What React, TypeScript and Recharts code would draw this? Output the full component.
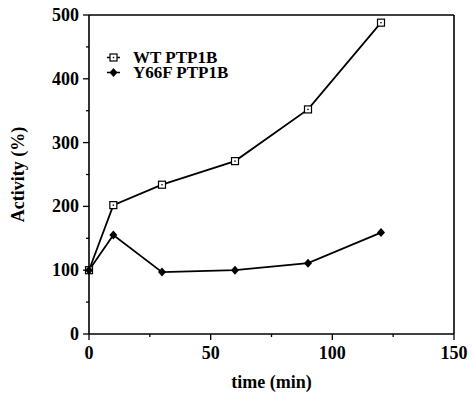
import React from 'react';
import { LineChart, Line, XAxis, YAxis, ReferenceLine, Legend } from 'recharts';

const times = [0, 10, 30, 60, 90, 120];
const wtValues = [100, 202, 234, 271, 352, 488];
const y66fValues = [100, 155, 97, 100, 111, 159];
const xTicks = [0, 25, 50, 75, 100, 125, 150];
const xMajor = [0, 50, 100, 150];
const yTicks = [0, 50, 100, 150, 200, 250, 300, 350, 400, 450, 500];
const yMajor = [0, 100, 200, 300, 400, 500];
const seriesNames = ['WT PTP1B', 'Y66F PTP1B'];

const data = times.map((t, i) => ({ t, wt: wtValues[i], y66f: y66fValues[i] }));

const FONT = 'Liberation Serif';

const XTick = (props: any) => {
  const { x, y, payload } = props;
  const major = xMajor.includes(payload.value);
  return (
    <g>
      <line x1={x} y1={y} x2={x} y2={y + (major ? 6 : 3)} stroke="#000" strokeWidth={1.3} />
      {major && (
        <text x={x} y={y + 25} textAnchor="middle" fontFamily={FONT} fontWeight="bold" fontSize={18} fill="#000">
          {payload.value}
        </text>
      )}
    </g>
  );
};

const YTick = (props: any) => {
  const { x, y, payload } = props;
  const major = yMajor.includes(payload.value);
  return (
    <g>
      <line x1={x - (major ? 6 : 3)} y1={y} x2={x} y2={y} stroke="#000" strokeWidth={1.3} />
      {major && (
        <text x={x - 10} y={y + 6} textAnchor="end" fontFamily={FONT} fontWeight="bold" fontSize={18} fill="#000">
          {payload.value}
        </text>
      )}
    </g>
  );
};

const SquareDot = (props: any) => {
  const { cx, cy } = props;
  if (cx == null || cy == null) return null;
  return (
    <g>
      <rect x={cx - 3.5} y={cy - 3.5} width={7} height={7} fill="#fff" stroke="#000" strokeWidth={1.2} />
      <rect x={cx - 0.7} y={cy - 0.7} width={1.4} height={1.4} fill="#000" />
    </g>
  );
};

const DiamondDot = (props: any) => {
  const { cx, cy } = props;
  if (cx == null || cy == null) return null;
  return <path d={`M${cx},${cy - 4.5} L${cx + 4},${cy} L${cx},${cy + 4.5} L${cx - 4},${cy} Z`} fill="#000" />;
};

const LegendContent = () => (
  <div style={{ fontFamily: FONT, fontWeight: 'bold', fontSize: 17, color: '#000', lineHeight: '15px' }}>
    {seriesNames.map((name, i) => (
      <div key={name} style={{ display: 'flex', alignItems: 'center', height: 15, whiteSpace: 'nowrap' }}>
        <svg width={33} height={15}>
          <line x1={7} y1={7.5} x2={20} y2={7.5} stroke="#000" strokeWidth={1.5} />
          {i === 0 ? (
            <g>
              <rect x={10} y={4} width={7} height={7} fill="#fff" stroke="#000" strokeWidth={1.2} />
              <rect x={12.8} y={6.8} width={1.4} height={1.4} fill="#000" />
            </g>
          ) : (
            <path d="M13.5,3 L17.5,7.5 L13.5,12 L9.5,7.5 Z" fill="#000" />
          )}
        </svg>
        <span>{name}</span>
      </div>
    ))}
  </div>
);

export default function App() {
  return (
    <div style={{ position: 'absolute', left: 0, top: 0, width: 472, height: 393, background: '#fff' }}>
      <LineChart width={472} height={393} data={data} margin={{ top: 15, right: 18, left: 0, bottom: 0 }}>
        <XAxis
          dataKey="t"
          type="number"
          domain={[0, 150]}
          ticks={xTicks}
          interval={0}
          height={59}
          tickSize={0}
          tickMargin={0}
          tickLine={false}
          axisLine={{ stroke: '#000', strokeWidth: 1.6 }}
          tick={<XTick />}
          label={{ value: 'time (min)', position: 'insideBottom', offset: 5, style: { fontFamily: FONT, fontWeight: 'bold', fontSize: 18, fill: '#000' } }}
        />
        <YAxis
          type="number"
          domain={[0, 500]}
          ticks={yTicks}
          interval={0}
          width={89}
          tickSize={0}
          tickMargin={0}
          tickLine={false}
          axisLine={{ stroke: '#000', strokeWidth: 1.6 }}
          tick={<YTick />}
          label={{ value: 'Activity (%)', angle: -90, position: 'insideLeft', offset: 18, style: { fontFamily: FONT, fontWeight: 'bold', fontSize: 18, fill: '#000', textAnchor: 'middle' } }}
        />
        <ReferenceLine y={500} stroke="#000" strokeWidth={1.6} />
        <ReferenceLine x={150} stroke="#000" strokeWidth={1.6} />
        <Legend
          layout="vertical"
          verticalAlign="middle"
          align="center"
          content={<LegendContent />}
          wrapperStyle={{ position: 'absolute', left: 100, top: 50, width: 'auto', margin: 0 }}
        />
        <Line
          type="linear"
          dataKey="wt"
          name={seriesNames[0]}
          stroke="#000"
          strokeWidth={1.8}
          dot={<SquareDot />}
          isAnimationActive={false}
        />
        <Line
          type="linear"
          dataKey="y66f"
          name={seriesNames[1]}
          stroke="#000"
          strokeWidth={1.8}
          dot={<DiamondDot />}
          isAnimationActive={false}
        />
      </LineChart>
    </div>
  );
}
